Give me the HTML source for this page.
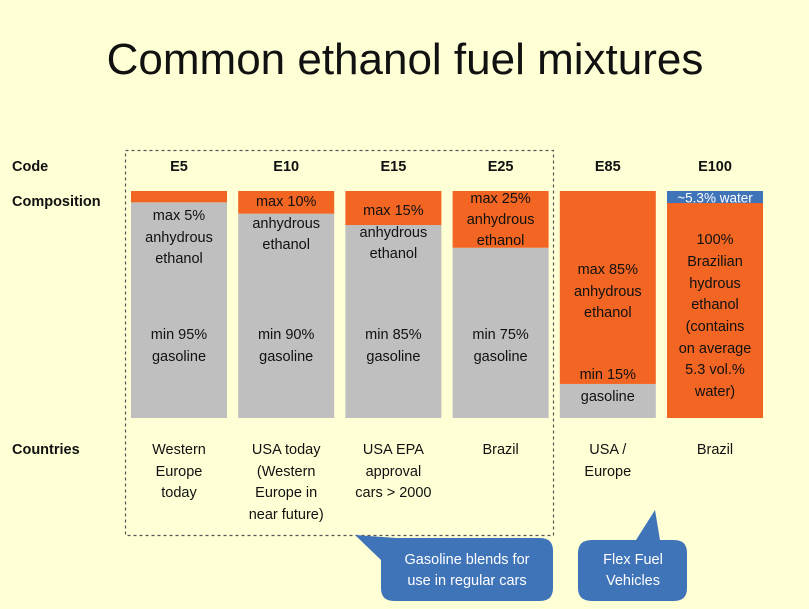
<!DOCTYPE html>
<html><head><meta charset="utf-8"><style>
body{margin:0;background:#ffffd6;}
#root{position:relative;width:809px;height:609px;background:#ffffd6;overflow:hidden;font-family:"Liberation Sans",sans-serif;color:#111;}
.t{position:absolute;transform:translate(-50%,-50%);white-space:nowrap;font-size:14.5px;text-align:center;}
.l{position:absolute;transform:translateY(-50%);font-size:14.5px;font-weight:bold;white-space:nowrap;}
.b{font-weight:bold;}
</style></head><body>
<div id="root">
<div class="t" style="left:405px;top:60px;font-size:44px;">Common ethanol fuel mixtures</div>
<div class="l" style="left:12px;top:167px">Code</div>
<div class="l" style="left:12px;top:202px">Composition</div>
<div class="l" style="left:12px;top:450px">Countries</div>
<svg id="chart" width="809" height="609" style="position:absolute;left:0;top:0">
<rect x="125.5" y="150.5" width="428" height="385" fill="none" stroke="#555" stroke-width="1.2" stroke-dasharray="3,3"/>
<path d="M396,538 H540 Q553,538 553,551 V588 Q553,601 540,601 H394 Q381,601 381,588 V560 L355,535 Z" fill="#3f74b9"/>
<path d="M592,540 H636 L655,510 L660,540 H674 Q687,540 687,553 V588 Q687,601 674,601 H592 Q578,601 578,588 V553 Q578,540 592,540 Z" fill="#3f74b9"/>
</svg>
<div class="t" style="left:467px;top:560px;color:#fff">Gasoline blends for</div>
<div class="t" style="left:467px;top:581px;color:#fff">use in regular cars</div>
<div class="t" style="left:633px;top:560px;color:#fff">Flex Fuel</div>
<div class="t" style="left:633px;top:581px;color:#fff">Vehicles</div>
</div>
<script>
const codes=["E5","E10","E15","E25","E85","E100"];
const ethanolPct=[5,10,15,25,85,100];
const waterPct=[0,0,0,0,0,5.3];
const countries=[["Western","Europe","today"],["USA today","(Western","Europe in","near future)"],["USA EPA","approval","cars > 2000"],["Brazil"],["USA /","Europe"],["Brazil"]];
const x0=131,step=107.2,bw=96,yTop=191,yBot=418;
const xs=i=>x0+i*step;
const ys=p=>yTop+(yBot-yTop)*p/100;
const svg=document.getElementById('chart');
const root=document.getElementById('root');
const NS="http://www.w3.org/2000/svg";
function rect(x,y,w,h,fill,name){const r=document.createElementNS(NS,'rect');r.setAttribute('x',x);r.setAttribute('y',y);r.setAttribute('width',w);r.setAttribute('height',Math.max(0,h));r.setAttribute('fill',fill);


svg.appendChild(r);}
function txt(s,x,y,name,extra){const d=document.createElement('div');d.className='t'+(extra||'');d.style.left=x+'px';d.style.top=y+'px';d.textContent=s;


root.appendChild(d);return d;}
codes.forEach((c,i)=>{
  const x=xs(i);
  const eth=ethanolPct[i];
  rect(x,ys(eth),bw,yBot-ys(eth),'#bfbfbf','gasoline-segment-'+c.toLowerCase());
  rect(x,yTop,bw,ys(eth)-yTop,'#f26522','ethanol-segment-'+c.toLowerCase());
  if(waterPct[i]>0) rect(x,yTop,bw,ys(waterPct[i])-yTop,'#3f74b9','water-segment-'+c.toLowerCase());
  const cx=x+bw/2;
  txt(c,cx,167,'code-'+c.toLowerCase(),' b');
  countries[i].forEach((s,k)=>txt(s,cx,450+k*21.5,'country-'+c.toLowerCase()+'-'+k));
});
const inside=[
 [["max 5%",216],["anhydrous",238],["ethanol",259],["min 95%",335],["gasoline",357]],
 [["max 10%",202],["anhydrous",224],["ethanol",245],["min 90%",335],["gasoline",357]],
 [["max 15%",211],["anhydrous",233],["ethanol",254],["min 85%",335],["gasoline",357]],
 [["max 25%",199],["anhydrous",220],["ethanol",241],["min 75%",335],["gasoline",357]],
 [["max 85%",270],["anhydrous",292],["ethanol",313],["min 15%",375],["gasoline",397]],
 [["100%",240],["Brazilian",262],["hydrous",284],["ethanol",305],["(contains",327],["on average",349],["5.3 vol.%",370],["water)",392]]
];
inside.forEach((arr,i)=>arr.forEach(([s,y],k)=>txt(s,xs(i)+bw/2,y,'bar-label-'+codes[i].toLowerCase()+'-'+k)));
const w=txt("~5.3% water",xs(5)+bw/2,198,'water-label-e100');w.style.color='#fff';w.style.fontSize='13.5px';
</script>
</body></html>
